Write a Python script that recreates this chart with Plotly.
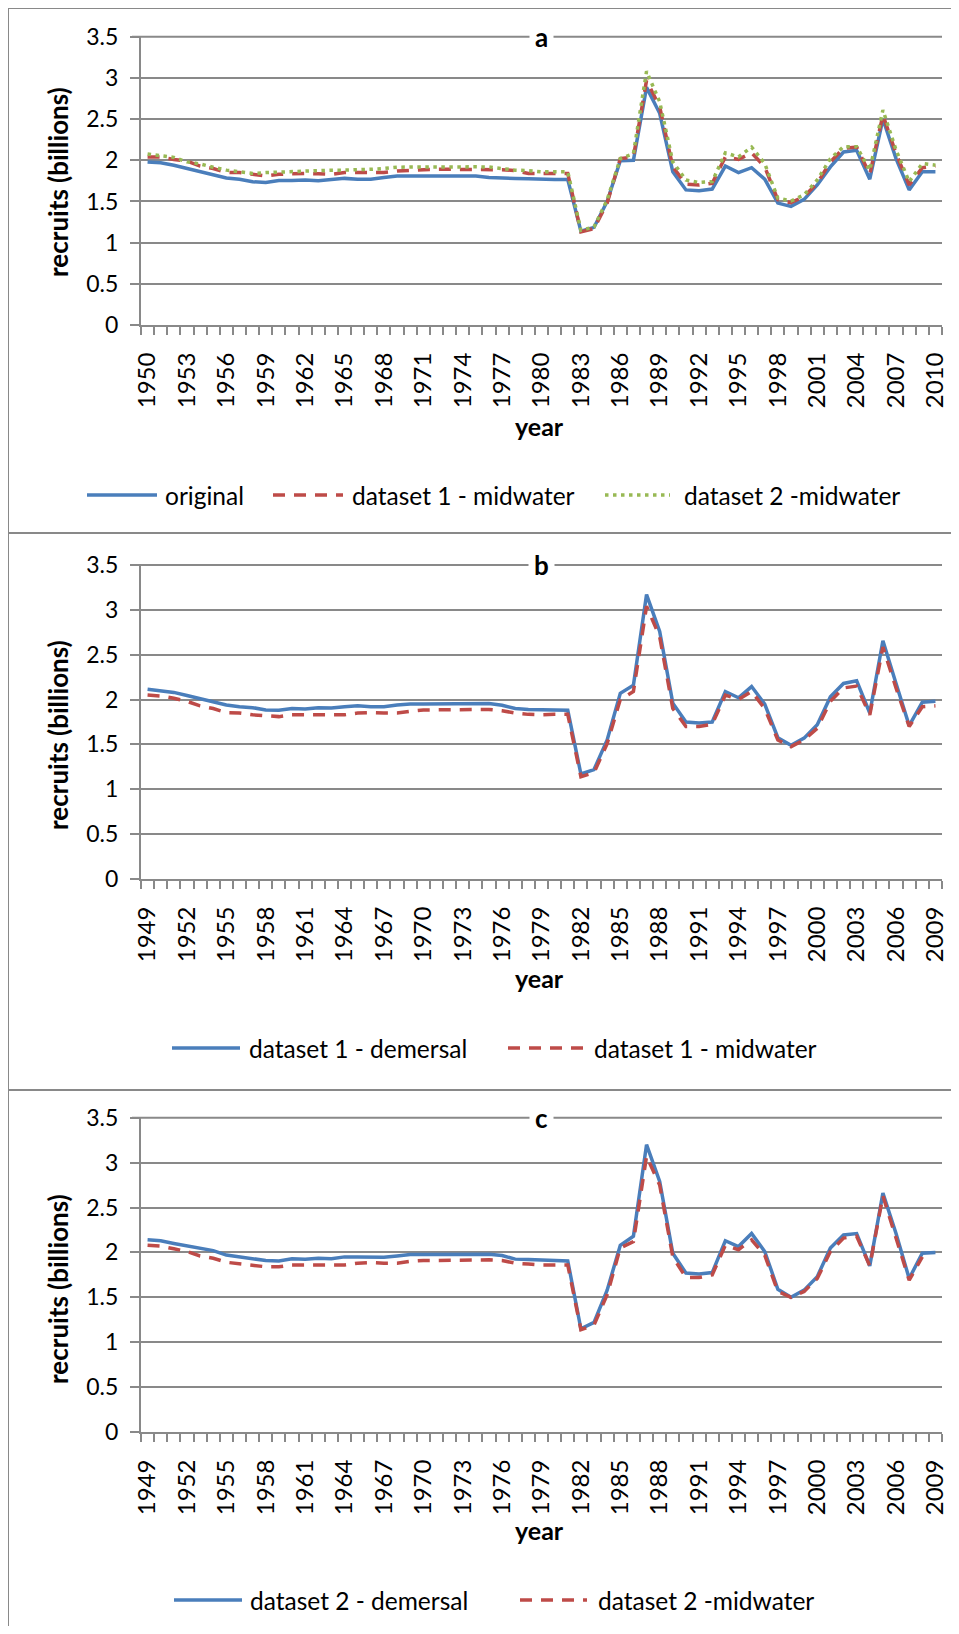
import plotly.graph_objects as go

# ---------------- data ----------------
years_a = list(range(1950, 2011))
years_bc = list(range(1949, 2010))

original = [1.98, 1.97, 1.94, 1.90, 1.87, 1.82, 1.785, 1.77, 1.74, 1.73,
            1.755, 1.755, 1.76, 1.75, 1.77, 1.78, 1.77, 1.77, 1.79, 1.81,
            1.81, 1.81, 1.805, 1.81, 1.81, 1.81, 1.79, 1.79, 1.78, 1.775,
            1.765, 1.765, 1.765,
            1.14, 1.186, 1.50, 1.995, 2.00, 2.885, 2.57,
            1.86, 1.64, 1.63, 1.65, 1.93, 1.85, 1.91, 1.77, 1.48, 1.44,
            1.525, 1.70, 1.92, 2.10, 2.12, 1.77, 2.50, 2.02, 1.64, 1.86, 1.86]

mid1_a = [2.04, 2.04, 2.01, 1.99, 1.93, 1.90, 1.85, 1.85, 1.83, 1.81,
          1.83, 1.84, 1.84, 1.835, 1.83, 1.85, 1.85, 1.845, 1.85, 1.87,
          1.88, 1.885, 1.89, 1.89, 1.89, 1.89, 1.89, 1.885, 1.875, 1.84,
          1.84, 1.84, 1.84,
          1.13, 1.17, 1.48, 2.02, 2.04, 2.97, 2.65,
          1.92, 1.71, 1.70, 1.72, 2.04, 2.01, 2.09, 1.92, 1.52, 1.485,
          1.56, 1.72, 1.98, 2.145, 2.16, 1.83, 2.55, 2.08, 1.70, 1.91, 1.93]

mid2_a = [2.076, 2.06, 2.035, 1.98, 1.955, 1.915, 1.88, 1.86, 1.84, 1.85,
          1.857, 1.86, 1.87, 1.87, 1.88, 1.88, 1.88, 1.89, 1.90, 1.915,
          1.918, 1.92, 1.92, 1.92, 1.92, 1.92, 1.918, 1.90, 1.88, 1.874,
          1.86, 1.86, 1.86,
          1.15, 1.19, 1.52, 2.02, 2.08, 3.08, 2.71,
          1.98, 1.76, 1.73, 1.74, 2.09, 2.04, 2.16, 1.96, 1.54, 1.505,
          1.58, 1.76, 2.02, 2.165, 2.165, 1.88, 2.61, 2.125, 1.74, 1.96, 1.94]

dem1_b = [2.115, 2.10, 2.08, 2.045, 2.01, 1.98, 1.94, 1.92, 1.91, 1.885,
          1.88, 1.90, 1.895, 1.91, 1.905, 1.92, 1.93, 1.92, 1.92, 1.94,
          1.95, 1.95, 1.95, 1.95, 1.955, 1.955, 1.955, 1.937, 1.90, 1.89,
          1.885, 1.88, 1.88,
          1.17, 1.22, 1.55, 2.07, 2.16, 3.17, 2.76,
          1.96, 1.75, 1.74, 1.75, 2.09, 2.02, 2.145, 1.95, 1.575, 1.49,
          1.57, 1.72, 2.03, 2.18, 2.21, 1.85, 2.655, 2.18, 1.71, 1.97, 1.98]

mid1_b = [2.05, 2.04, 2.015, 1.98, 1.93, 1.90, 1.855, 1.85, 1.83, 1.82,
          1.81, 1.83, 1.83, 1.835, 1.835, 1.83, 1.85, 1.855, 1.85, 1.85,
          1.87, 1.885, 1.885, 1.885, 1.89, 1.89, 1.89, 1.875, 1.85, 1.835,
          1.83, 1.835, 1.835,
          1.14, 1.185, 1.51, 2.00, 2.09, 3.04, 2.70,
          1.90, 1.70, 1.70, 1.725, 2.05, 2.00, 2.09, 1.90, 1.55, 1.475,
          1.55, 1.68, 1.98, 2.13, 2.15, 1.83, 2.585, 2.13, 1.70, 1.92, 1.93]

dem2_c = [2.14, 2.13, 2.10, 2.07, 2.05, 2.02, 1.97, 1.95, 1.935, 1.91,
          1.905, 1.93, 1.925, 1.935, 1.93, 1.95, 1.95, 1.945, 1.945, 1.96,
          1.976, 1.976, 1.976, 1.974, 1.98, 1.98, 1.98, 1.965, 1.925, 1.92,
          1.915, 1.905, 1.905,
          1.15, 1.22, 1.58, 2.08, 2.18, 3.20, 2.79,
          1.99, 1.77, 1.76, 1.775, 2.13, 2.065, 2.21, 2.01, 1.59, 1.50,
          1.58, 1.73, 2.05, 2.195, 2.21, 1.85, 2.66, 2.21, 1.71, 1.99, 2.00]

mid2_c = [2.08, 2.07, 2.04, 2.01, 1.96, 1.935, 1.89, 1.875, 1.86, 1.84,
          1.84, 1.86, 1.86, 1.86, 1.86, 1.86, 1.88, 1.887, 1.88, 1.88,
          1.90, 1.91, 1.91, 1.912, 1.917, 1.917, 1.917, 1.91, 1.88, 1.87,
          1.86, 1.86, 1.86,
          1.14, 1.19, 1.53, 2.05, 2.12, 3.07, 2.75,
          1.95, 1.72, 1.72, 1.75, 2.08, 2.03, 2.14, 1.97, 1.565, 1.50,
          1.565, 1.71, 2.01, 2.16, 2.18, 1.85, 2.63, 2.16, 1.69, 1.95, None]

panel_letters = ["a", "b", "c"]
y_ticks = [0, 0.5, 1, 1.5, 2, 2.5, 3, 3.5]
y_ticktext = ["0", "0.5", "1", "1.5", "2", "2.5", "3", "3.5"]

# ---------------- styling ----------------
# page body keeps its default 8px margin, so the figure is sized to fill
# the 959x1634 window exactly and page-pixel positions are shifted by 8.
OFF = 8
W, H = 959 - 2 * OFF, 1634 - 2 * OFF
BLUE = "#4A7EBB"
RED = "#BE4B48"
GREEN = "#98B954"
GRID = "#898989"
FONT = "Lato, 'Open Sans', sans-serif"


def px(x):
    return (x - OFF) / W


def py(y):
    return 1 - (y - OFF) / H


panels = [
    dict(years=years_a, top=36.7, bot=325.0, year_y=426, leg_y=495,
         frame=(8, 533), ytitle_y=182,
         series=[(original, "original", BLUE, "solid", 3.5),
                 (mid1_a, "dataset 1 - midwater", RED, "12px,9px", 3.5),
                 (mid2_a, "dataset 2 -midwater", GREEN, "3.5px,4.5px", 3.5)],
         leg=[(87, 157, 163), (273, 343, 350), (605, 670, 682)]),
    dict(years=years_bc, top=565.0, bot=879.0, year_y=978, leg_y=1048,
         frame=(533, 1090), ytitle_y=735,
         series=[(dem1_b, "dataset 1 - demersal", BLUE, "solid", 3.5),
                 (mid1_b, "dataset 1 - midwater", RED, "12px,9px", 3.5)],
         leg=[(172, 240, 247), (508, 584, 592)]),
    dict(years=years_bc, top=1117.7, bot=1432.0, year_y=1530, leg_y=1600,
         frame=(1090, 1640), ytitle_y=1289,
         series=[(dem2_c, "dataset 2 - demersal", BLUE, "solid", 3.5),
                 (mid2_c, "dataset 2 -midwater", RED, "12px,9px", 3.5)],
         leg=[(174, 242, 248), (520, 587, 596)]),
]

X0, X1 = 141, 942

fig = go.Figure()
shapes = []
annotations = []

for k, p in enumerate(panels):
    suffix = "" if k == 0 else str(k + 1)
    xa = "x" + suffix
    ya = "y" + suffix
    yrs = p["years"]
    for vals, name, color, dash, width in p["series"]:
        fig.add_trace(go.Scatter(
            x=yrs, y=vals, name=name, mode="lines", xaxis=xa, yaxis=ya,
            line=dict(color=color, width=width, dash=dash),
            connectgaps=False, showlegend=False))

    tickvals = yrs[::3]
    fig.update_layout(**{
        "xaxis" + suffix: dict(
            domain=[px(X0), px(X1)], anchor=ya,
            range=[yrs[0] - 0.5, yrs[-1] + 0.5],
            tickvals=tickvals, ticktext=[str(v) for v in tickvals],
            tickangle=-90, ticks="", ticklabelstandoff=16,
            tickfont=dict(family=FONT, size=24, color="#000000"),
            showgrid=False, zeroline=False, automargin=False,
            showline=True, linecolor=GRID, linewidth=2,
            minor=dict(tick0=yrs[0] - 0.5, dtick=1, ticks="outside",
                       ticklen=8, tickwidth=1.5, tickcolor=GRID,
                       showgrid=False),
            fixedrange=True),
        "yaxis" + suffix: dict(
            domain=[py(p["bot"]), py(p["top"])], anchor=xa,
            range=[0, 3.5], tickvals=y_ticks, ticktext=y_ticktext,
            ticks="outside", ticklen=9, tickwidth=2, tickcolor=GRID,
            ticklabelstandoff=7, automargin=False,
            tickfont=dict(family=FONT, size=23, color="#000000"),
            showgrid=True, gridcolor=GRID, gridwidth=2,
            zeroline=False, showline=True, linecolor=GRID, linewidth=2,
            fixedrange=True),
    })

    # top gridline (3.5) in case plotly drops the edge gridline
    shapes.append(dict(type="line", xref="paper", yref="paper",
                       x0=px(X0 - 9), x1=px(X1), y0=py(p["top"]), y1=py(p["top"]),
                       line=dict(color=GRID, width=2)))

    # panel letter on top gridline
    annotations.append(dict(
        text="<b>" + panel_letters[k] + "</b>", xref="paper", yref="paper",
        x=px((X0 + X1) / 2), y=py(p["top"]), xanchor="center", yanchor="middle",
        showarrow=False, bgcolor="#FFFFFF", borderpad=5,
        font=dict(family=FONT, size=26, color="#000000")))

    # axis titles
    annotations.append(dict(
        text="<b>recruits (billions)</b>", xref="paper", yref="paper",
        x=px(58), y=py(p["ytitle_y"]), xanchor="center", yanchor="middle",
        textangle=-90, showarrow=False,
        font=dict(family=FONT, size=26, color="#000000")))
    annotations.append(dict(
        text="<b>year</b>", xref="paper", yref="paper",
        x=px(539), y=py(p["year_y"]), xanchor="center", yanchor="middle",
        showarrow=False, font=dict(family=FONT, size=25, color="#000000")))

    # legend (drawn manually for long Excel-style samples)
    for (vals, name, color, dash, width), (lx0, lx1, tx) in zip(p["series"], p["leg"]):
        shapes.append(dict(type="line", xref="paper", yref="paper",
                           x0=px(lx0), x1=px(lx1), y0=py(p["leg_y"]), y1=py(p["leg_y"]),
                           line=dict(color=color, width=width, dash=dash)))
        annotations.append(dict(
            text=name, xref="paper", yref="paper", x=px(tx), y=py(p["leg_y"]),
            xanchor="left", yanchor="middle", showarrow=False,
            font=dict(family=FONT, size=24.5, color="#000000")))

    # panel frame
    f0, f1 = p["frame"]
    shapes.append(dict(type="rect", xref="paper", yref="paper",
                       x0=px(8), x1=px(975), y0=py(f1), y1=py(f0),
                       line=dict(color=GRID, width=2), layer="below"))

fig.update_layout(
    width=W, height=H,
    margin=dict(l=0, r=0, t=0, b=0, pad=0, autoexpand=False),
    paper_bgcolor="#FFFFFF", plot_bgcolor="#FFFFFF",
    showlegend=False, shapes=shapes, annotations=annotations,
    font=dict(family=FONT, color="#000000"),
)

fig.write_html("out.html")
